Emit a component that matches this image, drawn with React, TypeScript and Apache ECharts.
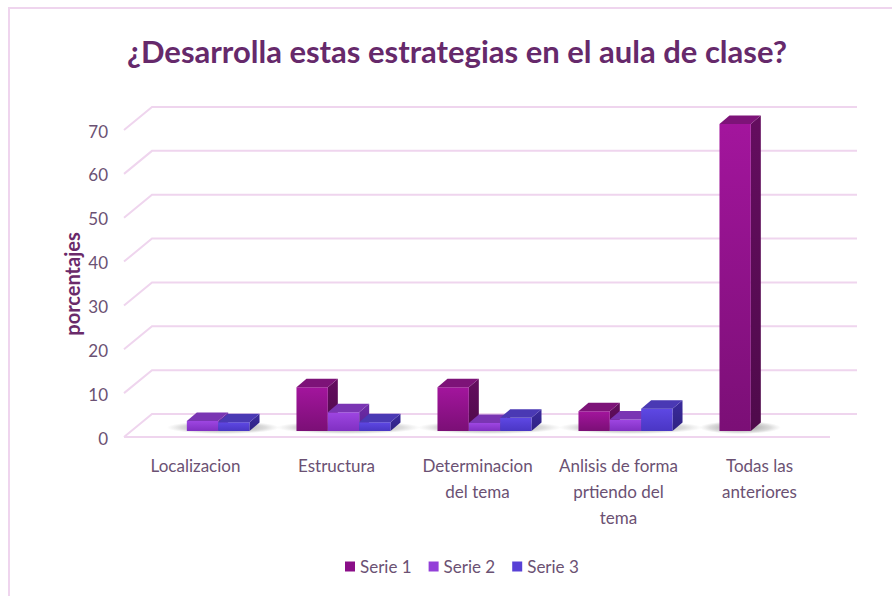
import React, { useEffect, useRef } from "react";
import * as echarts from "echarts";

const categories = [
  "Localizacion",
  "Estructura",
  "Determinacion\ndel tema",
  "Anlisis de forma\nprtiendo del\ntema",
  "Todas las\nanteriores",
];
const seriesNames = ["Serie 1", "Serie 2", "Serie 3"];
const serie1 = [0, 10, 10, 4.5, 70];
const serie2 = [2.3, 4.3, 1.8, 2.6, 0];
const serie3 = [2, 2, 3, 5.1, 0];
const yTicks = [0, 10, 20, 30, 40, 50, 60, 70];
const titleText = "¿Desarrolla estas estrategias en el aula de clase?";
const yAxisTitle = "porcentajes";

const allSeries = [serie1, serie2, serie3];
const legendColors = ["#8a0e88", "#9340d8", "#5841d6"];
const faceColors = [
  { front: ["#a3159d", "#7b0f76"], side: ["#640d5f", "#4f0a4b"], top: "#7d1378" },
  { front: ["#9e46e2", "#8030c2"], side: ["#6e2ca8", "#5a2290"], top: "#7a35b3" },
  { front: ["#5e48e4", "#4a36c4"], side: ["#3b2b9e", "#2f2282"], top: "#4a39b4" },
];
const DX = 10;
const DY = -8.5;
const GROUP = 0.667;
const textColor = "#6b5173";
const gridColor = "#efd5ee";

export default function App() {
  const ref = useRef<HTMLDivElement>(null);
  useEffect(() => {
    if (!ref.current) return;
    const chart = echarts.init(ref.current, undefined, { renderer: "svg" });

    const barSeries = allSeries.map((vals, si) => ({
      type: "custom",
      name: seriesNames[si],
      itemStyle: { color: legendColors[si] },
      z: 5,
      encode: { x: 0, y: 1 },
      data: vals.map((v, k) => [k, v]),
      renderItem: (params: any, api: any) => {
        const idx = api.value(0);
        const v = api.value(1);
        if (!v) return { type: "group", children: [] };
        const top = api.coord([idx, v]);
        const base = api.coord([idx, 0]);
        const band = api.size([1, 0])[0];
        const bw = (band * GROUP) / 3;
        const x0 = top[0] - 1.5 * bw + si * bw;
        const x1 = x0 + bw;
        const yt = top[1];
        const yb = base[1];
        const c = faceColors[si];
        return {
          type: "group",
          children: [
            {
              type: "polygon",
              shape: { points: [[x1, yt], [x1 + DX, yt + DY], [x1 + DX, yb + DY], [x1, yb]] },
              style: {
                fill: new echarts.graphic.LinearGradient(0, 0, 0, 1, [
                  { offset: 0, color: c.side[0] },
                  { offset: 1, color: c.side[1] },
                ]),
              },
            },
            {
              type: "rect",
              shape: { x: x0, y: yt, width: bw, height: yb - yt },
              style: {
                fill: new echarts.graphic.LinearGradient(0, 0, 0, 1, [
                  { offset: 0, color: c.front[0] },
                  { offset: 1, color: c.front[1] },
                ]),
              },
            },
            {
              type: "polygon",
              shape: { points: [[x0, yt], [x0 + DX, yt + DY], [x1 + DX, yt + DY], [x1, yt]] },
              style: { fill: c.top },
            },
          ],
        };
      },
    }));

    const shadowData = categories.map((_, k) => {
      const nz = allSeries.map((s, i) => (s[k] > 0 ? i : -1)).filter((i) => i >= 0);
      return [k, 0, Math.min(...nz), Math.max(...nz)];
    });

    const shadowSeries = {
      type: "custom",
      name: "shadow",
      z: 3,
      silent: true,
      encode: { x: 0, y: 1 },
      data: shadowData,
      renderItem: (params: any, api: any) => {
        const idx = api.value(0);
        const imin = api.value(2);
        const imax = api.value(3);
        const base = api.coord([idx, 0]);
        const band = api.size([1, 0])[0];
        const bw = (band * GROUP) / 3;
        const gx0 = base[0] - 1.5 * bw + imin * bw;
        const gx1 = base[0] - 1.5 * bw + (imax + 1) * bw + DX;
        return {
          type: "rect",
          shape: { x: gx0 - 20, y: base[1] - 10, width: gx1 - gx0 + 40, height: 13 },
          style: {
            fill: new echarts.graphic.RadialGradient(0.5, 0.5, 0.5, [
              { offset: 0, color: "rgba(40,40,40,0.55)" },
              { offset: 0.75, color: "rgba(80,80,80,0.2)" },
              { offset: 1, color: "rgba(120,120,120,0)" },
            ]),
          },
        };
      },
    };

    const gridSeries = {
      type: "custom",
      name: "grid3d",
      z: 1,
      silent: true,
      encode: { x: 0, y: 1 },
      data: yTicks.map((v) => [0, v]),
      renderItem: (params: any, api: any) => {
        const cs = params.coordSys;
        const v = api.value(1);
        const y = api.coord([0, v])[1];
        const left = cs.x;
        const right = cs.x + cs.width;
        const children: any[] = [
          {
            type: "polyline",
            shape: {
              points: [
                [left - 8, y + 6],
                [left + 20, y - 17],
                [right + 20, y - 17],
              ],
            },
            style: { stroke: gridColor, lineWidth: 2, fill: "none" },
          },
          {
            type: "text",
            style: {
              text: String(v),
              x: left - 24,
              y: y + 7,
              align: "right",
              verticalAlign: "middle",
              fontFamily: "Lato",
              fontSize: 17,
              fill: textColor,
            },
          },
        ];
        if (v === 0) {
          children.push({
            type: "line",
            shape: { x1: left - 8, y1: y + 6, x2: right - 7, y2: y + 6 },
            style: { stroke: gridColor, lineWidth: 2 },
          });
        }
        return { type: "group", children };
      },
    };

    chart.setOption({
      animation: false,
      backgroundColor: "#ffffff",
      grid: { left: 132, right: 55, top: 124, bottom: 165 },
      xAxis: {
        type: "category",
        data: categories,
        axisLine: { show: false },
        axisTick: { show: false },
        splitLine: { show: false },
        axisLabel: {
          interval: 0,
          margin: 21,
          fontFamily: "Lato",
          fontSize: 17,
          lineHeight: 26,
          color: textColor,
          padding: [0, 14, 0, 0],
        },
      },
      yAxis: {
        type: "value",
        min: 0,
        max: 70,
        interval: 10,
        axisLine: { show: false },
        axisTick: { show: false },
        axisLabel: { show: false },
        splitLine: { show: false },
      },
      legend: {
        data: seriesNames,
        left: 345,
        top: 558,
        padding: 0,
        icon: "rect",
        itemWidth: 10,
        itemHeight: 10,
        itemGap: 17,
        textStyle: { fontFamily: "Lato", fontSize: 17, color: textColor },
      },
      graphic: [
        {
          type: "rect",
          shape: { x: 9, y: 8, width: 900, height: 600 },
          style: { stroke: gridColor, lineWidth: 2, fill: "none" },
          silent: true,
        },
        {
          type: "text",
          style: {
            text: titleText,
            x: 457,
            y: 51,
            align: "center",
            verticalAlign: "middle",
            fontFamily: "Lato",
            fontWeight: "bold",
            fontSize: 31,
            fill: "#66296b",
          },
        },
        {
          type: "text",
          rotation: Math.PI / 2,
          x: 72,
          y: 284,
          style: {
            text: yAxisTitle,
            x: 0,
            y: 0,
            align: "center",
            verticalAlign: "middle",
            fontFamily: "Lato",
            fontWeight: "bold",
            fontSize: 20,
            fill: "#6a2a6a",
          },
        },
      ],
      series: [gridSeries, shadowSeries, ...barSeries],
    });
    return () => chart.dispose();
  }, []);
  return (
    <div
      ref={ref}
      style={{ position: "fixed", left: 0, top: 0, width: 892, height: 596, background: "#fff" }}
    />
  );
}
